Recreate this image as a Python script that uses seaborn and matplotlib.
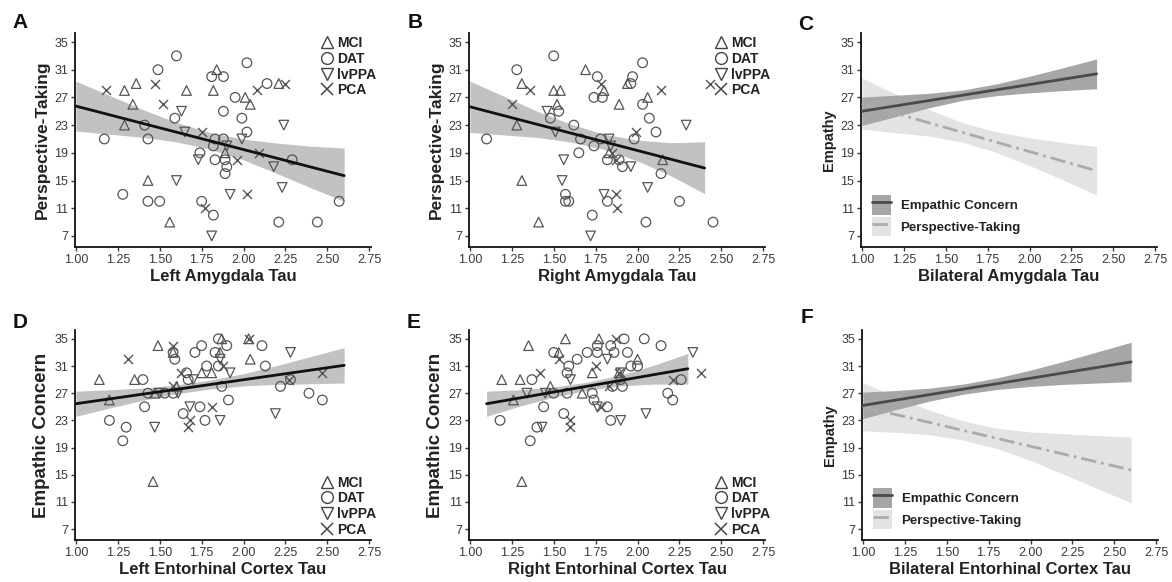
import numpy as np
import pandas as pd
import matplotlib
matplotlib.use("Agg")
import matplotlib.pyplot as plt
from matplotlib.lines import Line2D
from matplotlib.patches import Patch
import seaborn as sns

# ---------------- data ----------------
groups = ["MCI", "DAT", "lvPPA", "PCA"]
markers = {"MCI": "^", "DAT": "o", "lvPPA": "v", "PCA": "x"}

# A: Left Amygdala Tau vs Perspective-Taking
a_mci = [(1.29, 28), (1.36, 29), (1.34, 26), (1.29, 23), (1.66, 28), (1.84, 31), (1.82, 28),
         (1.43, 15), (1.56, 9), (1.89, 19), (2.01, 27), (2.04, 26), (2.21, 29)]
a_dat = [(1.17, 21), (1.60, 33), (1.49, 31), (1.28, 13), (1.41, 23), (1.43, 21), (1.43, 12),
         (1.50, 12), (1.59, 24), (1.81, 30), (1.88, 30), (1.88, 25), (2.02, 32), (1.95, 27),
         (1.99, 24), (2.02, 22), (1.83, 21), (1.82, 20), (1.88, 21), (1.83, 18), (1.89, 18),
         (1.90, 17), (1.89, 16), (1.74, 19), (1.75, 12), (1.82, 10), (2.14, 29), (2.29, 18),
         (2.21, 9), (2.44, 9), (2.57, 12)]
a_ppa = [(1.63, 25), (1.65, 22), (1.60, 15), (1.73, 18), (1.90, 20), (1.99, 21), (1.92, 13),
         (1.81, 7), (2.18, 17), (2.24, 23), (2.23, 14)]
a_pca = [(1.18, 28), (1.47, 29), (1.52, 26), (1.75, 22), (1.96, 18), (2.08, 28), (2.02, 13),
         (1.77, 11), (2.09, 19), (2.25, 29)]
a_fit_x = [1.0, 2.6]
a_fit_y = [25.75, 15.7]
a_ci_x = [1.0, 1.2, 1.4, 1.6, 1.8, 2.0, 2.2, 2.4, 2.6]
a_ci_hi = [29.35, 27.29, 25.24, 23.38, 21.93, 20.97, 20.41, 19.96, 19.7]
a_ci_lo = [22.15, 21.69, 21.24, 20.58, 19.53, 17.97, 16.01, 13.96, 12.0]

# B: Right Amygdala Tau vs Perspective-Taking
b_mci = [(1.31, 29), (1.28, 23), (1.50, 28), (1.54, 28), (1.52, 26), (1.69, 31), (1.80, 28),
         (1.89, 26), (1.94, 29), (2.06, 27), (1.31, 15), (1.41, 9), (1.83, 19), (2.15, 18)]
b_dat = [(1.10, 21), (1.28, 31), (1.50, 33), (1.48, 24), (1.53, 25), (1.62, 23), (1.66, 21),
         (1.65, 19), (1.76, 30), (1.97, 30), (1.96, 29), (1.74, 27), (1.79, 27), (1.78, 21),
         (1.74, 20), (1.82, 18), (1.89, 18), (1.91, 17), (2.03, 32), (2.03, 26), (2.07, 24),
         (1.98, 21), (2.11, 22), (2.14, 16), (1.57, 13), (1.57, 12), (1.59, 12), (1.82, 12),
         (1.73, 10), (2.05, 9), (2.25, 12), (2.45, 9)]
b_ppa = [(1.46, 25), (1.51, 22), (1.56, 18), (1.55, 15), (1.83, 21), (1.84, 20), (1.80, 13),
         (1.96, 17), (2.06, 14), (2.29, 23), (1.72, 7)]
b_pca = [(1.25, 26), (1.36, 28), (1.78, 29), (1.85, 19), (1.87, 18), (1.99, 22), (2.14, 28),
         (1.87, 13), (1.88, 11), (2.43, 29)]
b_fit_x = [1.0, 2.4]
b_fit_y = [25.65, 16.8]
b_ci_x = [1.0, 1.2, 1.4, 1.6, 1.8, 2.0, 2.2, 2.4]
b_ci_hi = [29.35, 27.19, 25.02, 23.16, 21.69, 20.83, 20.46, 20.6]
b_ci_lo = [21.95, 21.59, 21.22, 20.56, 19.49, 17.83, 15.66, 13.1]

# C: Bilateral Amygdala Tau, model lines only
c_x = [1.0, 1.2, 1.4, 1.6, 1.8, 2.0, 2.2, 2.4]
c_ec_fit = [25.0, 30.4]
c_ec_hi = [27.05, 27.32, 27.59, 28.07, 28.94, 30.06, 31.28, 32.55]
c_ec_lo = [22.95, 24.22, 25.49, 26.57, 27.24, 27.66, 27.98, 28.25]
c_pt_fit = [26.1, 16.4]
c_pt_hi = [29.8, 27.51, 25.23, 23.34, 22.06, 21.17, 20.48, 19.9]
c_pt_lo = [22.4, 21.91, 21.43, 20.54, 19.06, 17.17, 15.08, 12.9]

# D: Left Entorhinal Cortex Tau vs Empathic Concern
d_mci = [(1.14, 29), (1.20, 26), (1.35, 29), (1.49, 34), (1.46, 14), (1.47, 27), (1.60, 28),
         (1.75, 30), (1.81, 30), (1.87, 35), (1.86, 33), (2.04, 32), (2.03, 35), (1.58, 33)]
d_dat = [(1.20, 23), (1.30, 22), (1.28, 20), (1.40, 29), (1.41, 25), (1.43, 27), (1.53, 27),
         (1.58, 27), (1.59, 32), (1.58, 33), (1.66, 30), (1.67, 29), (1.64, 24), (1.71, 33),
         (1.75, 34), (1.74, 25), (1.78, 31), (1.77, 23), (1.85, 35), (1.83, 33), (1.85, 31),
         (1.87, 28), (1.90, 34), (1.91, 26), (2.11, 34), (2.13, 31), (2.22, 28), (2.28, 29),
         (2.39, 27), (2.47, 26)]
d_ppa = [(1.47, 22), (1.50, 27), (1.61, 27), (1.68, 25), (1.70, 29), (1.86, 23), (1.86, 32),
         (1.92, 30), (2.19, 24), (2.28, 33)]
d_pca = [(1.31, 32), (1.58, 34), (1.63, 30), (1.58, 28), (1.81, 25), (1.68, 23), (1.67, 22),
         (1.88, 31), (2.03, 35), (2.27, 29), (2.47, 30)]
d_fit_x = [1.0, 2.6]
d_fit_y = [25.45, 31.1]
d_ci_x = [1.0, 1.2, 1.4, 1.6, 1.8, 2.0, 2.2, 2.4, 2.6]
d_ci_hi = [27.3, 27.51, 27.76, 28.22, 28.92, 29.88, 31.09, 32.39, 33.7]
d_ci_lo = [23.6, 24.81, 25.96, 26.92, 27.62, 28.08, 28.29, 28.39, 28.5]

# E: Right Entorhinal Cortex Tau vs Empathic Concern
e_mci = [(1.19, 29), (1.30, 29), (1.35, 34), (1.26, 26), (1.48, 28), (1.53, 33), (1.57, 35),
         (1.67, 27), (1.73, 30), (1.77, 35), (2.00, 32), (1.31, 14), (1.89, 30)]
e_dat = [(1.18, 23), (1.37, 29), (1.36, 20), (1.40, 22), (1.44, 25), (1.50, 27), (1.50, 33),
         (1.59, 31), (1.58, 27), (1.58, 30), (1.56, 24), (1.64, 32), (1.70, 33), (1.76, 34),
         (1.76, 33), (1.73, 27), (1.74, 26), (1.82, 25), (1.84, 34), (1.86, 33), (1.85, 28),
         (1.84, 23), (1.92, 35), (1.94, 33), (1.96, 31), (2.00, 31), (1.91, 28), (1.90, 29),
         (2.04, 35), (2.14, 34), (2.18, 27), (2.21, 26), (2.26, 29)]
e_ppa = [(1.34, 27), (1.43, 22), (1.45, 27), (1.60, 29), (1.82, 32), (1.76, 25), (1.90, 23),
         (1.90, 30), (2.05, 24), (2.33, 33)]
e_pca = [(1.42, 30), (1.53, 32), (1.60, 23), (1.60, 22), (1.75, 31), (1.78, 25), (1.83, 28),
         (1.87, 35), (1.89, 30), (2.21, 29), (2.38, 30)]
e_fit_x = [1.1, 2.3]
e_fit_y = [25.45, 30.6]
e_ci_x = [1.1, 1.3, 1.5, 1.7, 1.9, 2.1, 2.3]
e_ci_hi = [27.3, 27.51, 27.92, 28.62, 29.68, 31.14, 32.85]
e_ci_lo = [23.6, 25.11, 26.42, 27.42, 28.08, 28.34, 28.35]

# F: Bilateral Entorhinal Cortex Tau, model lines only
f_x = [1.0, 1.2, 1.4, 1.6, 1.8, 2.0, 2.2, 2.4, 2.6]
f_ec_fit = [25.2, 31.6]
f_ec_hi = [27.15, 27.4, 27.75, 28.35, 29.25, 30.4, 31.7, 33.1, 34.5]
f_ec_lo = [23.25, 24.6, 25.85, 26.85, 27.55, 28.0, 28.3, 28.5, 28.7]
f_pt_fit = [25.0, 15.7]
f_pt_hi = [28.55, 26.44, 24.48, 22.91, 21.85, 21.29, 21.03, 20.77, 20.55]
f_pt_lo = [21.45, 21.24, 20.88, 20.11, 18.85, 17.09, 15.03, 12.97, 10.85]

# ---------------- style ----------------
sns.set_style("ticks")
plt.rcParams["font.family"] = ["Liberation Sans", "DejaVu Sans"]
TXT = "#222222"
PT_DASH = (0, (5.5, 1.8, 1.0, 1.8))

fig = plt.figure(figsize=(11.72, 5.82), dpi=100)

W, H = 1172, 582
def make_ax(left, top, right, bottom):
    return fig.add_axes([left / W, 1 - bottom / H, (right - left) / W, (bottom - top) / H])

ax_a = make_ax(75, 33, 371, 247)
ax_b = make_ax(469, 33, 765, 247)
ax_c = make_ax(861, 33, 1157, 247)
ax_d = make_ax(75, 330, 371, 540)
ax_e = make_ax(469, 330, 765, 540)
ax_f = make_ax(862, 330, 1158, 540)


def style_axes(ax, xlabel, ylabel, ysize):
    ax.set_xlim(0.995, 2.76)
    ax.set_ylim(5.4, 36.3)
    ax.set_xticks([1.0, 1.25, 1.5, 1.75, 2.0, 2.25, 2.5, 2.75])
    ax.set_xticklabels([f"{v:.2f}" for v in [1.0, 1.25, 1.5, 1.75, 2.0, 2.25, 2.5, 2.75]])
    ax.set_yticks(range(7, 36, 4))
    ax.tick_params(labelsize=9, colors="#3a3a3a", length=3, width=1, pad=2)
    for s in ["left", "bottom"]:
        ax.spines[s].set_linewidth(1.3)
        ax.spines[s].set_color("#111111")
    sns.despine(ax=ax)
    ax.set_xlabel(xlabel, fontsize=12, fontweight="bold", color=TXT, labelpad=2)
    ax.set_ylabel(ylabel, fontsize=ysize, fontweight="bold", color=TXT, labelpad=3)


def scatter_panel(ax, pts, fit_x, fit_y, ci_x, ci_lo, ci_hi, xlabel, ylabel, ysize, legend_loc):
    ax.fill_between(ci_x, ci_lo, ci_hi, color="#c2c2c2", lw=0, zorder=1)
    for g, p in zip(groups, pts):
        df = pd.DataFrame(p, columns=["x", "y"])
        if markers[g] == "x":
            sns.scatterplot(data=df, x="x", y="y", marker="x", color="#555555",
                            s=42, linewidth=1.0, edgecolor=None, ax=ax, zorder=2)
        else:
            sns.scatterplot(data=df, x="x", y="y", marker=markers[g], color="#555555",
                            facecolor="none", edgecolor="#555555", s=48, linewidth=0.9,
                            ax=ax, zorder=2)
    sns.lineplot(x=fit_x, y=fit_y, color="#111111", lw=2, ax=ax, zorder=3)
    style_axes(ax, xlabel, ylabel, ysize)
    handles = []
    for g in groups:
        if markers[g] == "x":
            handles.append(Line2D([], [], ls="none", marker="x", color="#444444",
                                  markersize=8, mew=1.1))
        else:
            handles.append(Line2D([], [], ls="none", marker=markers[g], color="#444444",
                                  mfc="none", markersize=8.5, mew=1.0))
    if legend_loc == "upper right":
        anchor = (1.05, 1.03)
    else:
        anchor = (1.05, -0.03)
    ax.legend(handles, groups, loc=legend_loc, bbox_to_anchor=anchor, frameon=False,
              prop={"weight": "bold", "size": 10}, handlelength=1.0, handletextpad=0.2,
              labelspacing=0.12, borderpad=0.2, labelcolor=TXT)


def model_panel(ax, xs, ec_fit, ec_lo, ec_hi, pt_fit, pt_lo, pt_hi, xlabel):
    ax.fill_between(xs, pt_lo, pt_hi, color="#e3e3e3", lw=0, zorder=1)
    ax.fill_between(xs, ec_lo, ec_hi, color="#a6a6a6", lw=0, zorder=2)
    sns.lineplot(x=[xs[0], xs[-1]], y=pt_fit, color="#ababab", lw=2, ls=PT_DASH,
                 ax=ax, zorder=3)
    sns.lineplot(x=[xs[0], xs[-1]], y=ec_fit, color="#4a4a4a", lw=2, ax=ax, zorder=4)
    style_axes(ax, xlabel, "Empathy", 10.5)
    h_ec = (Patch(facecolor="#a6a6a6", lw=0), Line2D([], [], color="#4a4a4a", lw=2))
    h_pt = (Patch(facecolor="#e3e3e3", lw=0), Line2D([], [], color="#ababab", lw=2, ls=PT_DASH))
    ax.legend([h_ec, h_pt], ["Empathic Concern", "Perspective-Taking"], loc="lower left",
              bbox_to_anchor=(0.0, 0.0), frameon=False, handlelength=1.5, handleheight=1.9,
              handletextpad=0.7, labelspacing=0.15, borderpad=0.3,
              prop={"weight": "bold", "size": 9.5}, labelcolor=TXT)


scatter_panel(ax_a, [a_mci, a_dat, a_ppa, a_pca], a_fit_x, a_fit_y, a_ci_x, a_ci_lo, a_ci_hi,
              "Left Amygdala Tau", "Perspective-Taking", 12.5, "upper right")
scatter_panel(ax_b, [b_mci, b_dat, b_ppa, b_pca], b_fit_x, b_fit_y, b_ci_x, b_ci_lo, b_ci_hi,
              "Right Amygdala Tau", "Perspective-Taking", 12.5, "upper right")
model_panel(ax_c, c_x, c_ec_fit, c_ec_lo, c_ec_hi, c_pt_fit, c_pt_lo, c_pt_hi,
            "Bilateral Amygdala Tau")
scatter_panel(ax_d, [d_mci, d_dat, d_ppa, d_pca], d_fit_x, d_fit_y, d_ci_x, d_ci_lo, d_ci_hi,
              "Left Entorhinal Cortex Tau", "Empathic Concern", 13.5, "lower right")
scatter_panel(ax_e, [e_mci, e_dat, e_ppa, e_pca], e_fit_x, e_fit_y, e_ci_x, e_ci_lo, e_ci_hi,
              "Right Entorhinal Cortex Tau", "Empathic Concern", 13.5, "lower right")
model_panel(ax_f, f_x, f_ec_fit, f_ec_lo, f_ec_hi, f_pt_fit, f_pt_lo, f_pt_hi,
            "Bilateral Entorhinal Cortex Tau")

# panel letters
for letter, (px, py) in zip("ABCDEF", [(20, 23), (415, 23), (806, 25),
                                       (20, 322), (414, 322), (807, 318)]):
    fig.text(px / W, 1 - py / H, letter, fontsize=15, fontweight="bold", color="#111111",
             ha="center", va="center")

fig.savefig("out.png", dpi=100)
